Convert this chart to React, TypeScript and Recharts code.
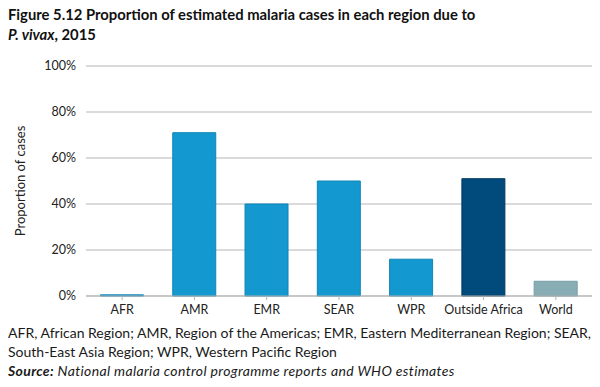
import { BarChart, Bar, XAxis, YAxis, CartesianGrid, Cell } from 'recharts'

const regions = ['AFR', 'AMR', 'EMR', 'SEAR', 'WPR', 'Outside Africa', 'World']
const vivaxShare = [0.5, 71, 40, 50, 16, 51, 6.4]
const barColors = ['#1399cf', '#1399cf', '#1399cf', '#1399cf', '#1399cf', '#004b7b', '#88adb5']
const barStrokes = ['#0f86b8', '#0f86b8', '#0f86b8', '#0f86b8', '#0f86b8', '#003a60', '#779ca4']
const yTicks = [0, 20, 40, 60, 80, 100]

const data = regions.map((region, i) => ({ region, value: vivaxShare[i] }))

const font = 'Lato, "Open Sans", sans-serif'

export default function App() {
  return (
    <div style={{ position: 'absolute', left: 0, top: 0, width: 600, height: 387, background: '#fff', fontFamily: font, color: '#1a1a1a' }}>
      <div style={{ position: 'absolute', left: 8, top: 4, fontSize: 14.8, fontWeight: 700, lineHeight: '20px', color: '#111' }}>
        Figure 5.12 Proportion of estimated malaria cases in each region due to
        <br />
        <i>P. vivax</i>, 2015
      </div>
      <div style={{ position: 'absolute', left: 0, top: 0 }}>
        <BarChart width={600} height={320} data={data} margin={{ top: 66, right: 8, bottom: 0, left: 0 }} barCategoryGap="20%">
          <CartesianGrid vertical={false} stroke="#b5b5b5" strokeWidth={1} />
          <XAxis
            dataKey="region"
            height={24}
            tick={{ fill: '#222', fontSize: 12.5, fontFamily: font }}
            tickSize={4}
            tickMargin={5}
            stroke="#b5b5b5"
            interval={0}
          />
          <YAxis
            width={86}
            domain={[0, 100]}
            ticks={yTicks}
            tickFormatter={(v: number) => `${v}%`}
            axisLine={false}
            tickLine={false}
            tickSize={0}
            tickMargin={10}
            tick={{ fill: '#222', fontSize: 12.5, fontFamily: font }}
            label={{ value: 'Proportion of cases', angle: -90, position: 'insideLeft', offset: 20, style: { textAnchor: 'middle', fill: '#222', fontSize: 13, fontFamily: font } }}
          />
          <Bar dataKey="value" isAnimationActive={false}>
            {data.map((d, i) => (
              <Cell key={d.region} fill={barColors[i]} stroke={barStrokes[i]} strokeWidth={1} />
            ))}
          </Bar>
        </BarChart>
      </div>
      <div style={{ position: 'absolute', left: 8, top: 323, fontSize: 14, lineHeight: '19px', color: '#1a1a1a' }}>
        AFR, African Region; AMR, Region of the Americas; EMR, Eastern Mediterranean Region; SEAR,
        <br />
        South-East Asia Region; WPR, Western Pacific Region
        <br />
        <i style={{ letterSpacing: 0.35 }}><b>Source:</b> National malaria control programme reports and WHO estimates</i>
      </div>
    </div>
  )
}
